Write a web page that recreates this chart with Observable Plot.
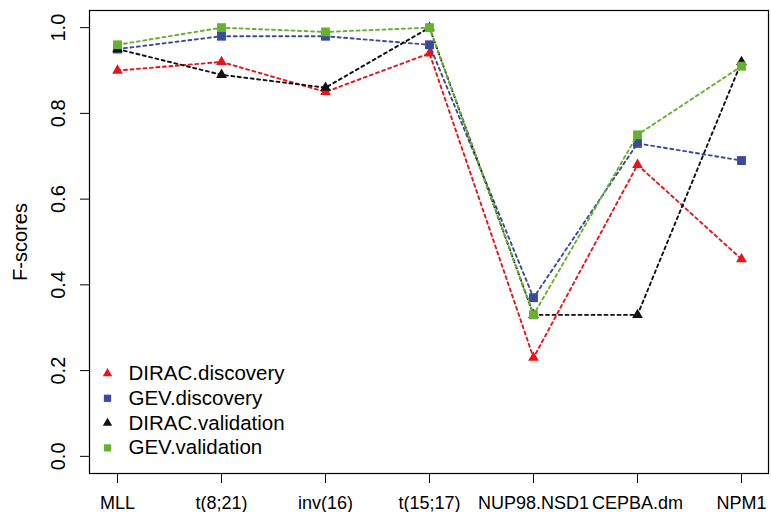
<!DOCTYPE html>
<html>
<head>
<meta charset="utf-8">
<script src="https://cdn.jsdelivr.net/npm/d3@7"></script>
<script src="https://cdn.jsdelivr.net/npm/@observablehq/plot@0.6"></script>
<style>
  html, body { margin: 0; padding: 0; background: #fff; }
  svg { display: block; }
</style>
</head>
<body>
<div id="chart"></div>
<script>
const categories = ["MLL", "t(8;21)", "inv(16)", "t(15;17)", "NUP98.NSD1", "CEPBA.dm", "NPM1"];
const seriesNames = ["DIRAC.discovery", "GEV.discovery", "DIRAC.validation", "GEV.validation"];
const diracDiscovery  = [0.90, 0.92, 0.85, 0.94, 0.23, 0.68, 0.46];
const gevDiscovery    = [0.95, 0.98, 0.98, 0.96, 0.37, 0.73, 0.69];
const diracValidation = [0.95, 0.89, 0.86, 1.00, 0.33, 0.33, 0.92];
const gevValidation   = [0.96, 1.00, 0.99, 1.00, 0.33, 0.75, 0.91];
const seriesColors  = ["#e8141c", "#3a4a9e", "#111111", "#66b22e"];
const seriesSymbols = ["triangle", "square", "triangle", "square"];
const yTicks = [0, 0.2, 0.4, 0.6, 0.8, 1.0];
const yLabel = "F-scores";

const allValues = [diracDiscovery, gevDiscovery, diracValidation, gevValidation];
const font = "'Liberation Sans', Arial, Helvetica, sans-serif";

const marks = [];
allValues.forEach((vals, si) => {
  const rows = categories.map((c, i) => ({cat: c, v: vals[i]}));
  marks.push(Plot.line(rows, {
    x: "cat", y: "v", stroke: seriesColors[si], strokeWidth: 1.9,
    strokeDasharray: "3,3.5", curve: "linear"
  }));
  marks.push(Plot.dot(rows, {
    x: "cat", y: "v", symbol: seriesSymbols[si], fill: seriesColors[si],
    stroke: "none", r: seriesSymbols[si] === "triangle" ? 4 : 5
  }));
});

// legend (inside plot, bottom-left)
seriesNames.forEach((name, i) => {
  const dy = -100 + i * 24.8;
  marks.push(Plot.dot([name], {
    frameAnchor: "bottom-left", dx: 18, dy: dy,
    symbol: seriesSymbols[i], fill: seriesColors[i], stroke: "none",
    r: seriesSymbols[i] === "triangle" ? 3.5 : 4.1
  }));
  marks.push(Plot.text([name], {
    frameAnchor: "bottom-left", dx: 39, dy: dy, text: d => d,
    textAnchor: "start", lineAnchor: "middle", fontSize: 20.5, fill: "#000"
  }));
});

const chart = Plot.plot({
  width: 771,
  height: 512,
  marginLeft: 89,
  marginRight: 3,
  marginTop: 10,
  marginBottom: 39,
  style: {fontFamily: font, fontSize: "18px", color: "#000", background: "#fff"},
  x: {type: "point", domain: categories, padding: 0.24},
  y: {domain: [-0.04, 1.04]},
  marks: [
    Plot.axisX({ticks: categories, tickSize: 10, tickPadding: 13, fontSize: 18, label: null, stroke: "#000"}),
    Plot.axisY({ticks: yTicks, tickSize: 9, text: null, label: null, stroke: "#000"}),
    Plot.text(yTicks, {y: d => d, frameAnchor: "left", dx: -31, rotate: -90,
      text: d => d3.format(".1f")(d), fontSize: 20, fill: "#000", textAnchor: "middle", lineAnchor: "middle"}),
    Plot.text([yLabel], {frameAnchor: "left", dx: -69, rotate: -90, text: d => d,
      fontSize: 20, fill: "#000", textAnchor: "middle", lineAnchor: "middle"}),
    Plot.frame({stroke: "#000", strokeWidth: 1.2}),
    ...marks
  ]
});
document.getElementById("chart").appendChild(chart);
</script>
</body>
</html>
